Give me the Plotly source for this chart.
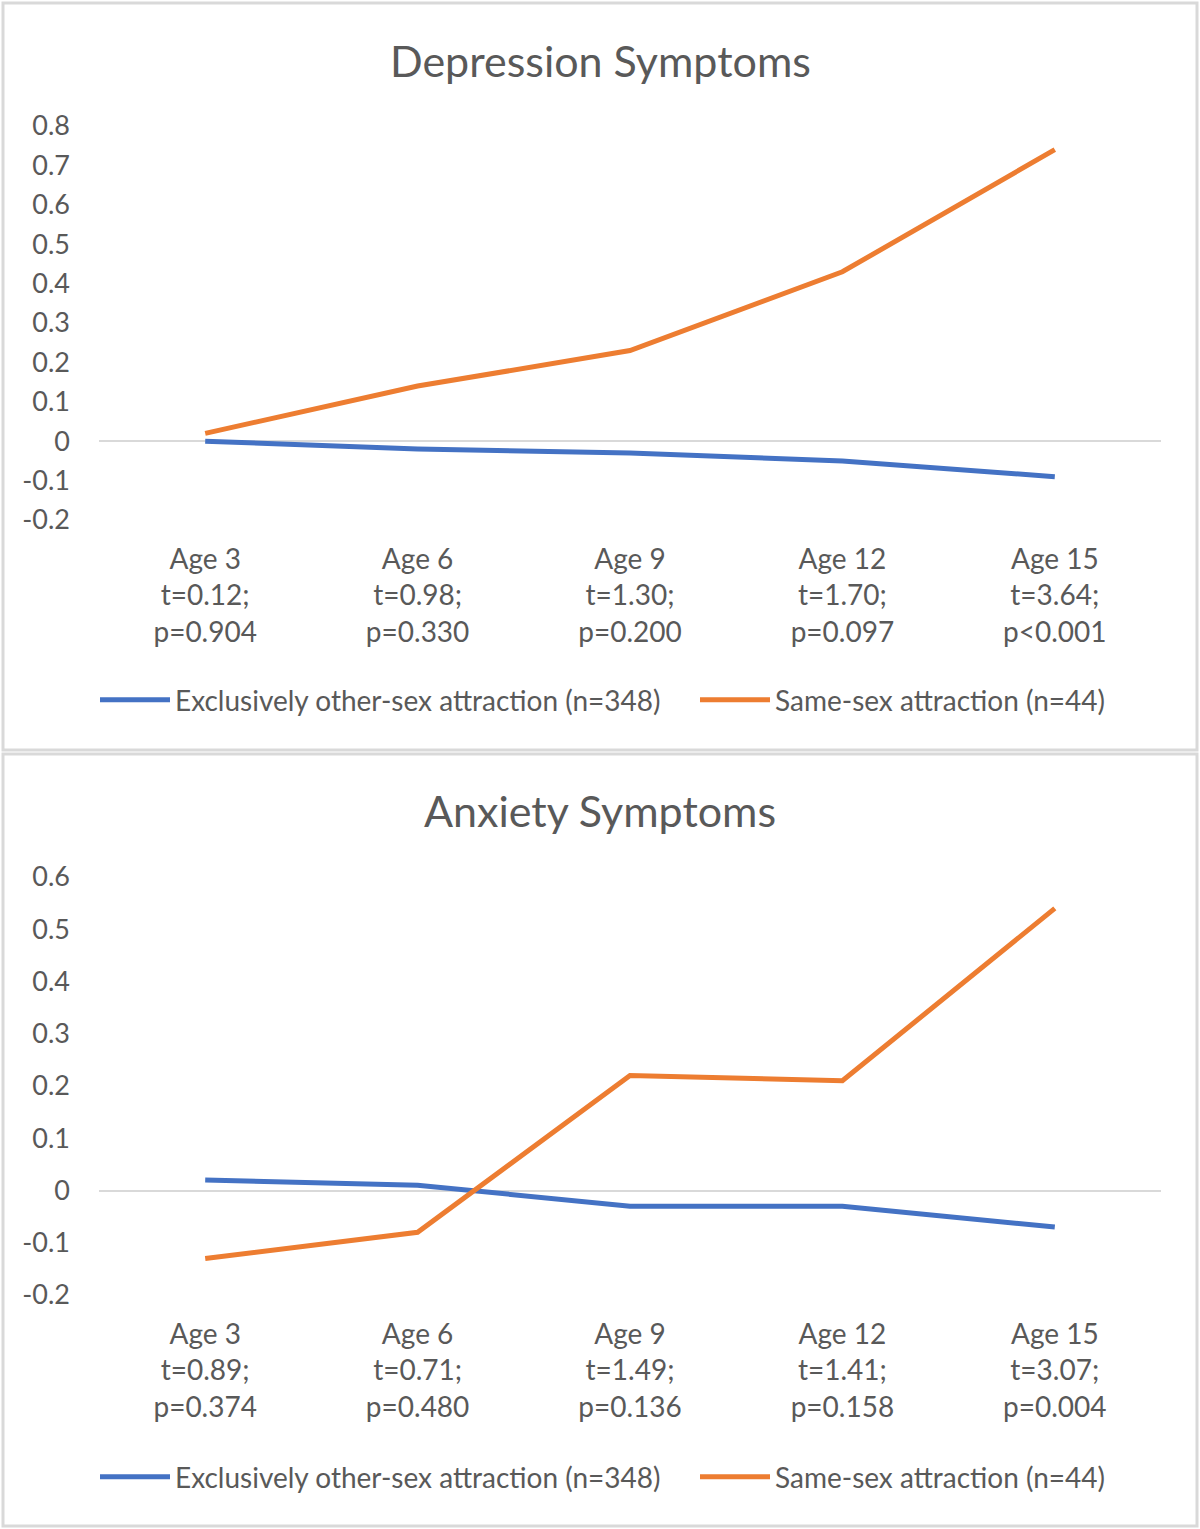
import plotly.graph_objects as go

# ---- data ----
dep_categories = ["Age 3<br>t=0.12;<br>p=0.904", "Age 6<br>t=0.98;<br>p=0.330",
                  "Age 9<br>t=1.30;<br>p=0.200", "Age 12<br>t=1.70;<br>p=0.097",
                  "Age 15<br>t=3.64;<br>p<0.001"]
anx_categories = ["Age 3<br>t=0.89;<br>p=0.374", "Age 6<br>t=0.71;<br>p=0.480",
                  "Age 9<br>t=1.49;<br>p=0.136", "Age 12<br>t=1.41;<br>p=0.158",
                  "Age 15<br>t=3.07;<br>p=0.004"]
dep_other = [0.0, -0.02, -0.03, -0.05, -0.09]
dep_same = [0.02, 0.14, 0.23, 0.43, 0.74]
anx_other = [0.02, 0.01, -0.03, -0.03, -0.07]
anx_same = [-0.13, -0.08, 0.22, 0.21, 0.54]
dep_ticks = [-0.2, -0.1, 0, 0.1, 0.2, 0.3, 0.4, 0.5, 0.6, 0.7, 0.8]
dep_ticktext = ["-0.2", "-0.1", "0", "0.1", "0.2", "0.3", "0.4", "0.5", "0.6", "0.7", "0.8"]
anx_ticks = [-0.2, -0.1, 0, 0.1, 0.2, 0.3, 0.4, 0.5, 0.6]
anx_ticktext = ["-0.2", "-0.1", "0", "0.1", "0.2", "0.3", "0.4", "0.5", "0.6"]
name_other = "Exclusively other-sex attraction (n=348)"
name_same = "Same-sex attraction (n=44)"
titles = ["Depression Symptoms", "Anxiety Symptoms"]

BLUE = "#4472C4"
ORANGE = "#ED7D31"
TXT = "#595959"
FONT = "Lato"
W, H = 1200, 1529


def py(px):
    return 1 - px / H


fig = go.Figure()
fig.add_trace(go.Scatter(x=dep_categories, y=dep_other, name=name_other, mode="lines",
                         line=dict(color=BLUE, width=5), xaxis="x", yaxis="y", legend="legend"))
fig.add_trace(go.Scatter(x=dep_categories, y=dep_same, name=name_same, mode="lines",
                         line=dict(color=ORANGE, width=5), xaxis="x", yaxis="y", legend="legend2"))
fig.add_trace(go.Scatter(x=anx_categories, y=anx_other, name=name_other, mode="lines",
                         line=dict(color=BLUE, width=5), xaxis="x2", yaxis="y2", legend="legend3"))
fig.add_trace(go.Scatter(x=anx_categories, y=anx_same, name=name_same, mode="lines",
                         line=dict(color=ORANGE, width=5), xaxis="x2", yaxis="y2", legend="legend4"))

xcommon = dict(type="category", range=[-0.5, 4.5], showgrid=False, zeroline=False,
               showline=False, ticks="", tickfont=dict(size=28, color=TXT),
               ticklabelstandoff=20, fixedrange=True, automargin=False)
ycommon = dict(showgrid=False, zeroline=True, zerolinecolor="#d9d9d9", zerolinewidth=2,
               showline=False, ticks="", tickfont=dict(size=27, color=TXT),
               ticklabelstandoff=28, fixedrange=True, automargin=False)

legcommon = dict(orientation="h", xanchor="left", yanchor="middle",
                 font=dict(size=28, color=TXT, family=FONT), bgcolor="rgba(0,0,0,0)",
                 itemwidth=70, borderwidth=0)

fig.update_layout(
    width=W, height=H, autosize=False,
    margin=dict(l=0, r=0, t=0, b=0, pad=0, autoexpand=False),
    paper_bgcolor="white", plot_bgcolor="white",
    font=dict(family=FONT, color=TXT),
    showlegend=True,
    xaxis=dict(domain=[99 / W, 1161 / W], anchor="y", **xcommon),
    yaxis=dict(domain=[py(520), py(126)], anchor="x", range=[-0.2, 0.8],
               tickvals=dep_ticks, ticktext=dep_ticktext, **ycommon),
    xaxis2=dict(domain=[99 / W, 1161 / W], anchor="y2", **xcommon),
    yaxis2=dict(domain=[py(1295), py(877)], anchor="x2", range=[-0.2, 0.6],
                tickvals=anx_ticks, ticktext=anx_ticktext, **ycommon),
    legend=dict(x=95 / W, y=py(700), **legcommon),
    legend2=dict(x=695 / W, y=py(700), **legcommon),
    legend3=dict(x=95 / W, y=py(1477), **legcommon),
    legend4=dict(x=695 / W, y=py(1477), **legcommon),
    annotations=[
        dict(text=titles[0], x=0.5, y=py(60), xref="paper", yref="paper",
             showarrow=False, font=dict(size=43, color=TXT, family=FONT), yanchor="middle"),
        dict(text=titles[1], x=0.5, y=py(810), xref="paper", yref="paper",
             showarrow=False, font=dict(size=43, color=TXT, family=FONT), yanchor="middle"),
    ],
    shapes=[
        dict(type="rect", xref="paper", yref="paper", x0=3 / W, x1=1197 / W,
             y0=py(750), y1=py(3), line=dict(color="#d9d9d9", width=3)),
        dict(type="rect", xref="paper", yref="paper", x0=3 / W, x1=1197 / W,
             y0=py(1526), y1=py(754), line=dict(color="#d9d9d9", width=3)),
    ],
)

fig.write_html("out.html", config=dict(displayModeBar=False),
               post_script="document.body.style.margin='0';document.body.style.overflow='hidden';")
